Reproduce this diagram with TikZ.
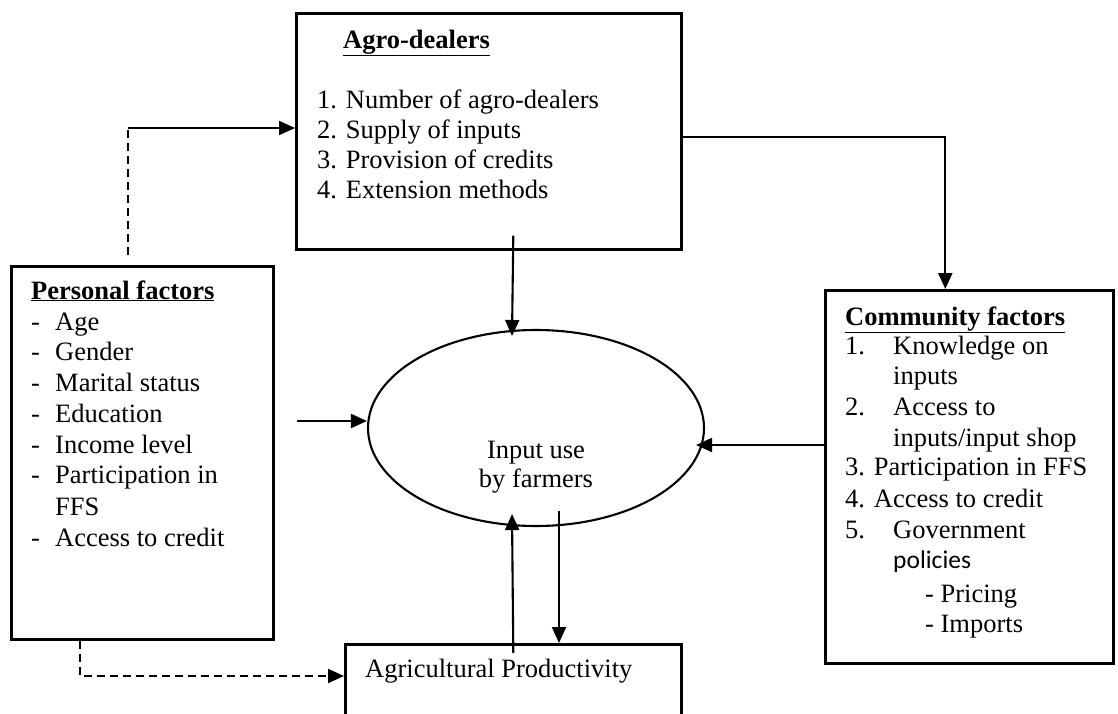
\documentclass[tikz,border=0pt]{standalone}
\usepackage{fontspec}
\setmainfont{Liberation Serif}
\newfontfamily\calibfont{Carlito}
\usetikzlibrary{shapes.geometric,arrows.meta}
\newcommand\dfont{\fontsize{26.5}{30.5}\selectfont}
\begin{document}
\begin{tikzpicture}[x=1pt,y=-1pt,
  box/.style={draw,line width=2.6pt,rectangle,inner sep=0pt,anchor=north west},
  txt/.style={anchor=base west,inner sep=0pt,font=\dfont},
  ctxt/.style={anchor=base,inner sep=0pt,font=\dfont},
  conn/.style={line width=2.1pt,-{Triangle[length=16pt,width=14pt]}},
  plainline/.style={line width=2.1pt},
  dashline/.style={line width=2.1pt,dash pattern=on 8pt off 5pt}]
\useasboundingbox (0,0) rectangle (1118,713);
\fill[white] (0,0) rectangle (1118,713);
\clip (0,0) rectangle (1118,713);

% boxes
\node[box,minimum width=385pt,minimum height=236pt] (agro) at (295,12) {};
\node[box,minimum width=262pt,minimum height=373pt] (pers) at (10,265) {};
\node[box,minimum width=288pt,minimum height=373pt] (comm) at (824,289) {};
\node[box,minimum width=336pt,minimum height=140pt] (agri) at (344,643) {};
\node[draw,ellipse,line width=2.1pt,inner sep=0pt,minimum width=336pt,minimum height=196pt] (E) at (536,428) {};

% agro-dealers text
\node[txt] (at0) at (343,48) {\underline{\textbf{Agro-dealers}}};
\node[txt] (at1) at (317,108) {1. Number of agro-dealers};
\node[txt] (at2) at (317,138) {2. Supply of inputs};
\node[txt] (at3) at (317,168) {3. Provision of credits};
\node[txt] (at4) at (317,198) {4. Extension methods};

% personal factors text
\node[txt] (pt0) at (31,299) {\underline{\textbf{Personal factors}}};
\foreach \yy/\tt [count=\i] in {330/Age,360/Gender,391/Marital status,422/Education,453/Income level,483/Participation in,546/Access to credit}{
  \node[txt] (pd\i) at (31,\yy) {-};
  \node[txt] (pi\i) at (55,\yy) {\tt};
}
\node[txt] (pffs) at (55,515) {FFS};

% community factors text
\node[txt] (ct0) at (845,325) {\underline{\textbf{Community factors}}};
\node[txt] (cn1) at (845,354) {1.};
\node[txt] (ci1) at (893,354) {Knowledge on};
\node[txt] (ci1b) at (893,384) {inputs};
\node[txt] (cn2) at (845,415) {2.};
\node[txt] (ci2) at (893,415) {Access to};
\node[txt] (ci2b) at (893,446) {inputs/input shop};
\node[txt] (ci3) at (845,475) {3. Participation in FFS};
\node[txt] (ci4) at (845,507) {4. Access to credit};
\node[txt] (cn5) at (845,538) {5.};
\node[txt] (ci5) at (893,538) {Government};
\node[txt,font=\calibfont\fontsize{25.5}{30}\selectfont] (ci5b) at (893,568) {policies};
\node[txt] (cs1) at (925,602) {- Pricing};
\node[txt] (cs2) at (925,632) {- Imports};

% ellipse text
\node[ctxt] (e1) at (536,458) {Input use};
\node[ctxt] (e2) at (536,487) {by farmers};

% agricultural productivity text
\node[txt] (ag) at (365,677) {Agricultural Productivity};

% connectors
\coordinate (pup) at (128,255);
\coordinate (pbend) at (128,128);
\draw[dashline] (pup) -- (pbend);
\draw[conn] (pbend) -- (pbend -| agro.west);

\draw[conn] (agro.east |- 0,137) -| ([xshift=-24pt]comm.north);

\draw[conn] ([xshift=24.5pt,yshift=15pt]agro.south) -- ([xshift=-24pt,yshift=-7pt]E.north);

\coordinate (pout) at (297,421);
\draw[conn] (pout) -- ([yshift=7pt]E.west);

\draw[conn] (comm.west |- 0,445) -- ([xshift=-9pt,yshift=-17pt]E.east);

\draw[conn] ([yshift=-10pt]agri.north) -- ([xshift=-24pt,yshift=13pt]E.south);

\coordinate (edown) at (559,511);
\draw[conn] (edown) -- (edown |- agri.north);

\draw[dashline,-{Triangle[length=16pt,width=14pt]}] ([xshift=70pt]pers.south west) |- ([yshift=-33pt]agri.north west);
\end{tikzpicture}
\end{document}
